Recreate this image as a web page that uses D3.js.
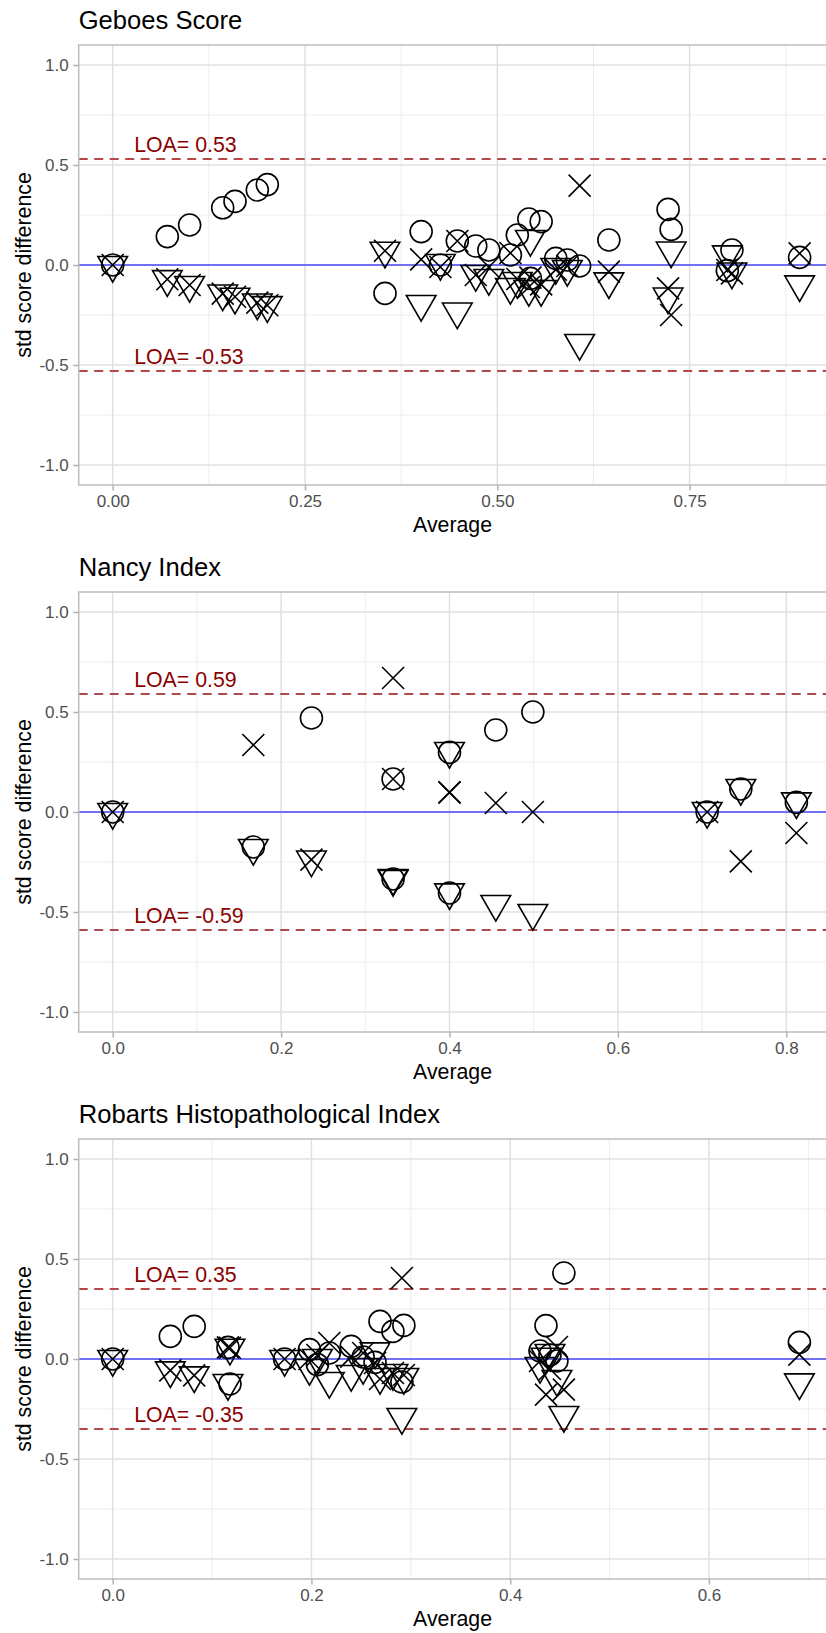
<!DOCTYPE html>
<html>
<head>
<meta charset="utf-8">
<script src="https://cdn.jsdelivr.net/npm/d3@7"></script>
<style>
  body { margin: 0; background: #fff; }
  svg { display: block; }
  text { font-family: "Liberation Sans", Arial, sans-serif; }
</style>
</head>
<body>
<div id="chart"></div>
<script>

// ---- data: one entry per subject, x = average, y = deviation per rater ----
const gebX      = [0.000, 0.071, 0.100, 0.143, 0.159, 0.188, 0.201, 0.354, 0.401, 0.426, 0.448, 0.472, 0.489, 0.517, 0.526, 0.541, 0.543, 0.557, 0.576, 0.591, 0.607, 0.645, 0.722, 0.726, 0.799, 0.805, 0.893];
const gebCircle = [0.000, 0.142, 0.200, 0.286, 0.318, 0.375, 0.402, -0.142, 0.167, 0.000, 0.120, 0.095, 0.075, 0.050, 0.150, 0.230, -0.067, 0.217, 0.033, 0.025, -0.005, 0.125, 0.278, 0.178, -0.028, 0.075, 0.038];
const gebTri    = [0.000, -0.071, -0.100, -0.143, -0.159, -0.188, -0.201, 0.071, -0.195, 0.010, -0.233, -0.045, -0.065, -0.110, -0.080, -0.120, 0.130, -0.120, -0.010, -0.020, -0.390, -0.082, -0.158, 0.072, 0.053, -0.033, -0.097];
const gebCross  = [0.000, -0.071, -0.100, -0.143, -0.159, -0.188, -0.201, 0.071, 0.028, -0.010, 0.120, -0.050, -0.010, 0.060, -0.070, -0.110, -0.063, -0.097, -0.023, -0.005, 0.397, -0.033, -0.117, -0.250, -0.025, -0.042, 0.058];

const nancyX      = [0.000, 0.167, 0.236, 0.333, 0.333, 0.400, 0.400, 0.455, 0.499, 0.706, 0.746, 0.812];
const nancyCircle = [0.000, -0.175, 0.470, -0.335, 0.165, 0.298, -0.405, 0.410, 0.500, 0.000, 0.115, 0.048];
const nancyTri    = [0.000, -0.180, -0.238, -0.335, -0.330, -0.402, 0.305, -0.460, -0.505, 0.005, 0.120, 0.053];
const nancyCross  = [0.000, 0.335, -0.238, 0.670, 0.165, 0.098, 0.098, 0.045, 0.000, 0.000, -0.247, -0.105];

const robX      = [0.000, 0.058, 0.082, 0.116, 0.118, 0.173, 0.198, 0.206, 0.218, 0.240, 0.252, 0.264, 0.269, 0.282, 0.291, 0.293, 0.430, 0.436, 0.440, 0.447, 0.454, 0.691];
const robCircle = [0.000, 0.113, 0.163, 0.058, -0.125, 0.000, 0.047, -0.028, 0.030, 0.063, 0.010, -0.017, 0.188, 0.138, -0.115, 0.168, 0.040, 0.167, 0.020, -0.010, 0.430, 0.083];
const robTri    = [0.000, -0.057, -0.082, -0.120, 0.056, 0.000, -0.045, 0.005, -0.110, -0.075, -0.040, 0.038, -0.090, -0.070, -0.290, -0.090, -0.035, 0.011, 0.030, -0.100, -0.280, -0.117];
const robCross  = [0.000, -0.057, -0.082, 0.058, 0.056, 0.000, 0.000, 0.020, 0.080, 0.012, 0.030, -0.020, -0.100, -0.070, 0.405, -0.080, -0.010, -0.178, -0.050, 0.060, -0.153, 0.022];

const panelTitles = ["Geboes Score", "Nancy Index", "Robarts Histopathological Index"];
const loaValues   = [0.53, 0.59, 0.35];

const gebTicks   = [0, 0.25, 0.5, 0.75];
const gebMinor   = [0.125, 0.375, 0.625, 0.875];
const otherTicks = [0, 0.2, 0.4, 0.6, 0.8];
const otherMinor = [0.1, 0.3, 0.5, 0.7];
const yTicks     = [-1, -0.5, 0, 0.5, 1];
const yMinor     = [-0.75, -0.25, 0.25, 0.75];

// ---- layout ----
const W = 826, H = 1633;
const left = 78.7, right = 832;
const panelH = 440;
const FONT = '"Liberation Sans", Arial, sans-serif';

const panels = [
  { title: panelTitles[0], top: 45,   xDomain: [-0.0442, 0.9351], ticks: gebTicks,   minor: gebMinor,   digits: 2,
    x: gebX, circle: gebCircle, tri: gebTri, cross: gebCross, loa: loaValues[0] },
  { title: panelTitles[1], top: 592,  xDomain: [-0.0404, 0.8543], ticks: otherTicks, minor: otherMinor, digits: 1,
    x: nancyX, circle: nancyCircle, tri: nancyTri, cross: nancyCross, loa: loaValues[1] },
  { title: panelTitles[2], top: 1139, xDomain: [-0.0342, 0.7238], ticks: otherTicks.slice(0, 4), minor: otherMinor, digits: 1,
    x: robX, circle: robCircle, tri: robTri, cross: robCross, loa: loaValues[2] }
];

// R-style point shapes (pch 1, 6, 4); size = circle radius
const shapeCircle = { draw(ctx, r) { ctx.moveTo(r, 0); ctx.arc(0, 0, r, 0, 2 * Math.PI); ctx.closePath(); } };
const shapeTriDown = { draw(ctx, r) {
  const tip = 1.5551 * r, half = 1.3468 * r, base = 0.7776 * r;
  ctx.moveTo(0, tip); ctx.lineTo(half, -base); ctx.lineTo(-half, -base); ctx.closePath();
} };
const shapeTimes = { draw(ctx, r) { ctx.moveTo(-r, -r); ctx.lineTo(r, r); ctx.moveTo(-r, r); ctx.lineTo(r, -r); } };
const R = 11;

// plain hyphen for negatives, like R
const fixed = n => v => v.toFixed(n);

const svg = d3.select("#chart").append("svg")
  .attr("width", W).attr("height", H);

panels.forEach((p, i) => {
  const top = p.top, bottom = top + panelH;
  const x = d3.scaleLinear().domain(p.xDomain).range([left, right]);
  const y = d3.scaleLinear().domain([-1.1, 1.1]).range([bottom, top]);

  const g = svg.append("g");
  const clipId = "clip" + i;
  g.append("clipPath").attr("id", clipId)
    .append("rect").attr("x", left).attr("y", top).attr("width", right - left).attr("height", panelH);

  // grid
  const grid = g.append("g");
  grid.selectAll(".xmin").data(p.minor).enter().append("line")
    .attr("x1", d => x(d)).attr("x2", d => x(d)).attr("y1", top).attr("y2", bottom)
    .attr("stroke", "#ededed").attr("stroke-width", 1);
  grid.selectAll(".ymin").data(yMinor).enter().append("line")
    .attr("x1", left).attr("x2", right).attr("y1", d => y(d)).attr("y2", d => y(d))
    .attr("stroke", "#ededed").attr("stroke-width", 1);
  grid.selectAll(".xmaj").data(p.ticks).enter().append("line")
    .attr("x1", d => x(d)).attr("x2", d => x(d)).attr("y1", top).attr("y2", bottom)
    .attr("stroke", "#e0e0e0").attr("stroke-width", 1.5);
  grid.selectAll(".ymaj").data(yTicks).enter().append("line")
    .attr("x1", left).attr("x2", right).attr("y1", d => y(d)).attr("y2", d => y(d))
    .attr("stroke", "#e0e0e0").attr("stroke-width", 1.5);

  // reference lines
  g.append("line").attr("x1", left).attr("x2", right).attr("y1", y(0)).attr("y2", y(0))
    .attr("stroke", "#7070f5").attr("stroke-width", 1.8);
  [p.loa, -p.loa].forEach(v => {
    g.append("line").attr("x1", left).attr("x2", right).attr("y1", y(v)).attr("y2", y(v))
      .attr("stroke", "#b04a4a").attr("stroke-width", 2).attr("stroke-dasharray", "9,6.5");
    g.append("text").attr("x", left + 55.5).attr("y", y(v) - 7)
      .attr("font-size", 21.3).attr("fill", "#8b0000")
      .text("LOA= " + v.toFixed(2));
  });

  // points
  const pts = [];
  p.x.forEach((xv, j) => {
    pts.push({ x: xv, y: p.circle[j], type: shapeCircle });
    pts.push({ x: xv, y: p.tri[j], type: shapeTriDown });
    pts.push({ x: xv, y: p.cross[j], type: shapeTimes });
  });
  g.append("g").attr("clip-path", `url(#${clipId})`)
    .selectAll("path").data(pts).enter().append("path")
    .attr("transform", d => `translate(${x(d.x)},${y(d.y)})`)
    .attr("d", d => d3.symbol().type(d.type).size(R)())
    .attr("fill", "none").attr("stroke", "#000").attr("stroke-width", 1.6);

  // panel border
  g.append("rect").attr("x", left).attr("y", top).attr("width", right - left).attr("height", panelH)
    .attr("fill", "none").attr("stroke", "#bdbdbd").attr("stroke-width", 1.5);

  // axes
  const xAxis = d3.axisBottom(x).tickValues(p.ticks).tickFormat(fixed(p.digits)).tickSize(5.5).tickPadding(4);
  const gx = g.append("g").attr("transform", `translate(0,${bottom})`).call(xAxis);
  const yAxis = d3.axisLeft(y).tickValues(yTicks).tickFormat(fixed(1)).tickSize(5.5).tickPadding(4.5);
  const gy = g.append("g").attr("transform", `translate(${left},0)`).call(yAxis);
  [gx, gy].forEach(a => {
    a.select(".domain").remove();
    a.selectAll(".tick line").attr("stroke", "#b3b3b3").attr("stroke-width", 1.5);
    a.selectAll(".tick text").attr("fill", "#4f4f4f").attr("font-size", 17)
      .style("font-family", FONT);
  });

  // titles
  g.append("text").attr("x", left).attr("y", top - 16)
    .attr("font-size", 25.6).attr("fill", "#000").text(p.title);
  g.append("text").attr("x", (left + 826.5) / 2).attr("y", bottom + 47)
    .attr("text-anchor", "middle").attr("font-size", 21.3).attr("fill", "#000").text("Average");
  g.append("text").attr("transform", `translate(31,${(top + bottom) / 2}) rotate(-90)`)
    .attr("text-anchor", "middle").attr("font-size", 21.3).attr("fill", "#000").text("std score difference");
});

</script>
</body>
</html>
